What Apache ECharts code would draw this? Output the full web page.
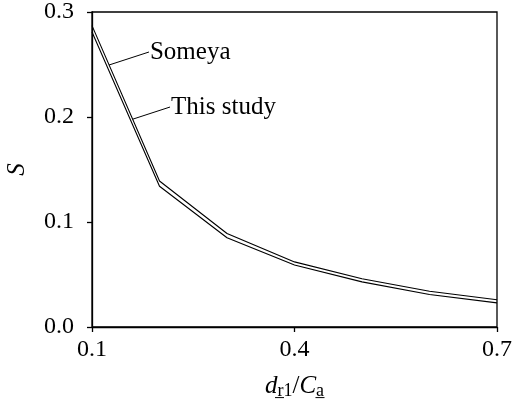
<!DOCTYPE html>
<html>
<head>
<meta charset="utf-8">
<script src="https://cdn.jsdelivr.net/npm/echarts@6/dist/echarts.min.js"></script>
<style>
  html, body { margin: 0; padding: 0; background: #fff; }
  #main { width: 516px; height: 401px; }
</style>
</head>
<body>
<div id="main"></div>
<script>
const xValues = [0.1, 0.2, 0.3, 0.4, 0.5, 0.6, 0.7];
const someya = [0.287, 0.139, 0.089, 0.062, 0.046, 0.034, 0.026];
const thisStudy = [0.281, 0.134, 0.085, 0.059, 0.043, 0.031, 0.023];

// leader lines for the two labels, [from, to] in data units
const someyaLeader = [[0.1252, 0.2495], [0.1844, 0.2619]];
const studyLeader = [[0.1607, 0.198], [0.2156, 0.2095]];

const FONT = "'Liberation Serif', 'Times New Roman', serif";

const chart = echarts.init(document.getElementById("main"), null, { renderer: "canvas" });

function pairs(ys) {
	return xValues.map((x, i) => [x, ys[i]]);
}

function leader(pts, text) {
	return {
		markLine: {
			silent: true,
			symbol: ["none", "none"],
			lineStyle: { color: "#000", width: 1, type: "solid" },
			label: { show: false },
			data: [[{ coord: pts[0] }, { coord: pts[1] }]],
		},
		markPoint: {
			silent: true,
			symbol: "circle",
			symbolSize: 0,
			label: {
				show: true,
				position: "right",
				distance: 1,
				formatter: text,
				color: "#000",
				fontFamily: FONT,
				fontSize: 25,
			},
			data: [{ coord: pts[1] }],
		},
	};
}

const option = {
	animation: false,
	backgroundColor: "#fff",
	grid: {
		left: 92,
		right: 19,
		top: 12,
		bottom: 74,
		outerBoundsMode: "none",
		containLabel: false,
		show: true,
		borderColor: "#000",
		borderWidth: 1.3,
	},
	xAxis: {
		type: "value",
		min: 0.1,
		max: 0.7,
		interval: 0.3,
		name: "{i|d}{s|r\u03321}{n|/}{i|C}{s|a\u0332}",
		nameLocation: "middle",
		nameGap: 45,
		nameTextStyle: {
			color: "#000",
			rich: {
				i: { fontFamily: FONT, fontStyle: "italic", fontSize: 25, color: "#000" },
				n: { fontFamily: FONT, fontSize: 25, color: "#000" },
				s: { fontFamily: FONT, fontSize: 18, color: "#000", verticalAlign: "bottom", padding: [10, 0, 0, 0] },
			},
		},
		axisLine: { show: true, lineStyle: { color: "#000", width: 1.3 } },
		axisTick: { show: true, inside: false, length: 5, lineStyle: { color: "#000", width: 1.3 } },
		axisLabel: {
			color: "#000",
			fontFamily: FONT,
			fontSize: 24,
			margin: 11,
			formatter: (v) => v.toFixed(1),
		},
		splitLine: { show: false },
	},
	yAxis: {
		type: "value",
		min: 0,
		max: 0.3,
		interval: 0.1,
		name: "S",
		nameLocation: "middle",
		nameRotate: 90,
		nameGap: 62,
		nameTextStyle: { color: "#000", fontFamily: FONT, fontStyle: "italic", fontSize: 25 },
		axisLine: { show: true, lineStyle: { color: "#000", width: 1.3 } },
		axisTick: { show: true, inside: false, length: 5, lineStyle: { color: "#000", width: 1.3 } },
		axisLabel: {
			color: "#000",
			fontFamily: FONT,
			fontSize: 24,
			margin: 18,
			formatter: (v) => v.toFixed(1),
		},
		splitLine: { show: false },
	},
	series: [
		Object.assign({
			name: "Someya",
			type: "line",
			data: pairs(someya),
			symbol: "none",
			lineStyle: { color: "#000", width: 1.1 },
		}, leader(someyaLeader, "Someya")),
		Object.assign({
			name: "This study",
			type: "line",
			data: pairs(thisStudy),
			symbol: "none",
			lineStyle: { color: "#000", width: 1.1 },
		}, leader(studyLeader, "This study")),
	],
};

chart.setOption(option);
</script>
</body>
</html>
